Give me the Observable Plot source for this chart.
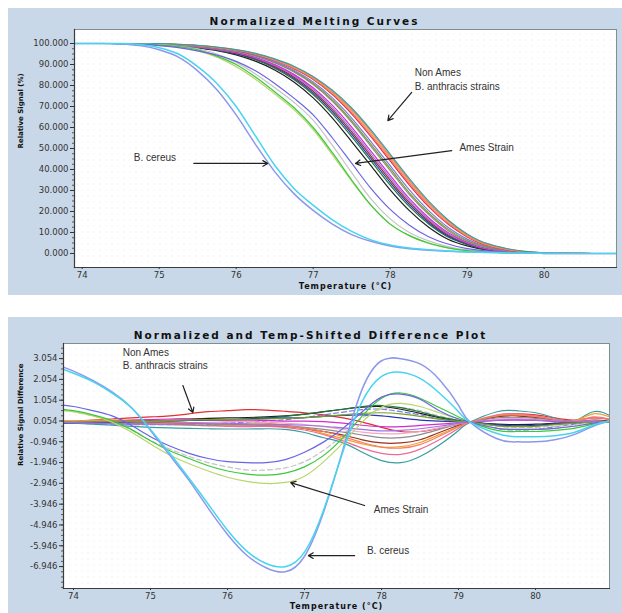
<!DOCTYPE html>
<html><head><meta charset="utf-8">
<script src="https://cdn.jsdelivr.net/npm/d3@7"></script>
<script src="https://cdn.jsdelivr.net/npm/@observablehq/plot@0.6"></script>
<style>
body{margin:0;background:#fff;}
#wrap{position:relative;width:622px;height:613px;overflow:hidden;background:#fff;}
.panel{position:absolute;left:8px;width:614px;background:#c9d8e8;}
#top{top:8px;height:287px;}
#bot{top:317px;height:296px;}
</style></head>
<body><div id="wrap"><div id="top" class="panel"></div><div id="bot" class="panel"></div></div>
<script>
// ---------- shared temperature grid (°C) ----------
const temps = [73.75,74,74.25,74.5,74.75,75,75.25,75.5,75.75,76,76.25,76.5,76.75,77,77.25,77.5,77.75,78,78.25,78.5,78.75,79,79.15,79.5,79.75,80,80.25,80.5,80.75,81];
const xTicks = [74,75,76,77,78,79,80];

// ---------- Normalized Melting Curves (Relative Signal %) ----------
const topYTicks = [0,10,20,30,40,50,60,70,80,90,100];
const topCereusBlue = [100,100,100,99.8,99,97,93.5,87,78,66,52,39,28.5,20.5,14,9,5.8,3.6,2.3,1.6,1.1,0.75,0.6,0.3,0.15,0.05,0,0,0,0];
const topCereusCyan = [100,100,100,100,99.5,98,95,89,81,70,56,42,31,23,16,10.5,6.5,4,2.6,1.75,1.2,0.8,0.6,0.3,0.15,0.05,0,0,0,0];
const topAmesGreen  = [100,100,100,100,99.8,99.3,98.5,97,94,90,84,77,69.5,60,48,35,23,14,8.5,5,2.7,1.4,0.95,0.3,0.1,0,0,0,0,0];
const topAmesPurple = [100,100,100,100,99.7,99,98,96.5,94.5,91.5,87,81,74,66,55,43,31,21,13.5,8,4.5,2.3,1.6,0.5,0.2,0.05,0,0,0,0];
const topAmesGrey   = [100,100,100,100,99.8,99.4,98.7,97.5,95,91,85.5,79,72,63.5,51.5,38.5,26,16.5,10,6,3.3,1.7,1.2,0.4,0.15,0.03,0,0,0,0];
const topAmesYellow = [100,100,100,100,99.7,99.1,98.2,96.5,93.5,89,83,76,68.5,59,47,34.5,23,14,8.5,4.8,2.6,1.35,0.95,0.3,0.1,0,0,0,0,0];
const topNonAmes1  = [100,100,100,99.95,99.8,99.4,98.8,97.9,96.6,94.6,91.6,87.4,81.7,74.1,64.5,53.3,41.8,30.3,20.4,12.5,6.8,3.6,2.3,0.6,0.2,0.06,0,0,0,0];
const topNonAmes2  = [100,100,100,99.97,99.82,99.47,98.92,98.05,96.85,95,92.25,88.25,82.9,75.7,66.5,55.6,44.1,32.6,22.3,14,7.85,4.2,2.6,0.75,0.28,0.08,0.01,0,0,0];
const topNonAmes3  = [100,100,100,99.98,99.84,99.52,98.98,98.1,96.95,95.2,92.6,88.7,83.5,76.5,67.6,56.8,45.3,33.8,23.3,14.8,8.4,4.5,2.75,0.82,0.3,0.09,0.01,0,0,0];
const topNonAmes4  = [100,100,100,100,99.85,99.55,99.05,98.2,97.1,95.4,92.9,89.1,84.1,77.3,68.5,57.9,46.4,34.9,24.2,15.5,8.9,4.8,2.9,0.9,0.35,0.1,0.02,0,0,0];
const topNonAmes5  = [100,100,100,100,99.86,99.58,99.1,98.3,97.2,95.6,93.15,89.5,84.7,78.1,69.5,59,47.5,36,25.1,16.2,9.4,5,3.1,0.95,0.38,0.11,0.02,0,0,0];
const topNonAmes6  = [100,100,100,100,99.88,99.62,99.17,98.4,97.35,95.8,93.45,89.95,85.3,78.9,70.5,60.2,48.7,37.2,26.1,17,9.95,5.3,3.35,1.05,0.42,0.12,0.03,0,0,0];
const topNonAmes7  = [100,100,100,100,99.9,99.7,99.3,98.6,97.6,96.2,94,90.8,86.5,80.5,72.5,62.5,51,39.5,28,18.5,11,5.8,3.8,1.2,0.5,0.15,0.05,0,0,0];
const topNonAmes8  = [100,100,100,100,99.91,99.72,99.33,98.65,97.65,96.3,94.15,91.05,86.8,81,73.15,63.3,52,40.5,28.9,19.3,11.6,6.2,4.1,1.3,0.55,0.17,0.05,0,0,0];
const topNonAmes9  = [100,100,100,100,99.92,99.75,99.38,98.75,97.75,96.45,94.35,91.35,87.25,81.7,74.1,64.5,53.3,41.8,30.3,20.4,12.5,6.85,4.5,1.5,0.62,0.2,0.06,0.01,0,0];
const topNonAmes10 = [100,100,100,100,99.95,99.8,99.45,98.9,97.9,96.7,94.7,91.9,88,82.9,75.7,66.5,55.6,44.1,32.6,22.3,14,7.9,5.2,1.8,0.75,0.25,0.08,0.02,0,0];
const topNonAmes11 = [100,100,100,100,99.96,99.82,99.48,98.95,98,96.8,94.85,92.1,88.3,83.25,76.2,67.2,56.4,44.9,33.35,22.95,14.5,8.25,5.45,1.95,0.8,0.27,0.08,0.02,0,0];
const topNonAmes12 = [100,100,100,100,99.97,99.85,99.52,99,98.1,96.9,95,92.3,88.6,83.6,76.7,67.9,57.25,45.7,34.1,23.6,15.05,8.6,5.75,2.15,0.88,0.3,0.09,0.02,0,0];
const topNonAmes13 = [100,100,100,100,99.98,99.88,99.57,99.05,98.2,97,95.15,92.5,88.9,83.95,77.2,68.6,58.1,46.5,34.85,24.25,15.6,9,6.05,2.35,0.95,0.33,0.1,0.03,0,0];
const topNonAmes14 = [100,100,100,100,100,99.9,99.6,99.1,98.3,97.1,95.3,92.7,89.2,84.3,77.7,69.3,58.9,47.3,35.6,24.9,16.1,9.3,6.3,2.5,1,0.35,0.1,0.03,0,0];

// ---------- Normalized and Temp-Shifted Difference Plot ----------
const diffYTicks = [3.054,2.054,1.054,0.054,-0.946,-1.946,-2.946,-3.946,-4.946,-5.946,-6.946];
const diffCereusBlue = [2.8,2.45,2.0,1.45,0.7,-0.4,-1.6,-2.8,-4.15,-5.4,-6.4,-7.0,-7.2,-6.45,-4.3,-1.3,1.6,2.95,3.05,2.8,2.05,0.8,0,-0.8,-0.95,-0.95,-0.85,-0.6,-0.2,0.1];
const diffCereusCyan = [2.7,2.35,1.95,1.4,0.7,-0.35,-1.5,-2.7,-3.95,-5.2,-6.2,-6.8,-6.95,-6.25,-4.2,-1.4,1.0,2.2,2.4,2.1,1.4,0.5,0,-0.55,-0.7,-0.7,-0.65,-0.5,-0.15,0.1];
const diffAmesPurple = [0.85,0.75,0.55,0.3,-0.15,-0.7,-1.15,-1.5,-1.75,-1.9,-1.95,-1.95,-1.8,-1.45,-0.95,-0.3,0.5,1.2,1.35,1.1,0.55,0.15,0,-0.3,-0.35,-0.35,-0.3,-0.2,-0.05,0.05];
const diffAmesGreen  = [0.65,0.55,0.35,0.08,-0.35,-0.9,-1.38,-1.75,-2.1,-2.35,-2.5,-2.55,-2.45,-2.15,-1.6,-0.75,0.3,1.15,1.4,1.15,0.7,0.25,0,-0.4,-0.45,-0.45,-0.4,-0.3,-0.1,0.05];
const diffAmesYellow = [0.6,0.5,0.3,0,-0.48,-1.05,-1.58,-2.0,-2.35,-2.65,-2.85,-2.95,-2.9,-2.6,-1.9,-1.0,0,0.72,0.9,0.75,0.45,0.15,0,-0.3,-0.35,-0.35,-0.3,-0.2,-0.05,0.05];
const diffAmesGrey   = [0.6,0.5,0.3,0.05,-0.38,-0.88,-1.3,-1.65,-1.95,-2.15,-2.3,-2.3,-2.2,-1.9,-1.35,-0.6,0.2,0.62,0.7,0.55,0.3,0.1,0,-0.2,-0.25,-0.25,-0.2,-0.15,-0.05,0];
const diffNonAmes1  = [0.05,0.05,0.1,0.15,0.2,0.25,0.3,0.4,0.5,0.55,0.6,0.58,0.52,0.45,0.35,0.2,0,-0.25,-0.45,-0.45,-0.3,-0.1,0,0.3,0.4,0.35,0.2,0.1,0.2,0.1];
const diffNonAmes2  = [0,0,0.02,0.05,0.08,0.1,0.12,0.15,0.18,0.2,0.22,0.25,0.3,0.38,0.5,0.62,0.72,0.75,0.62,0.42,0.22,0.06,0,-0.1,-0.12,-0.1,-0.05,0,0.05,0];
const diffNonAmes3  = [-0.05,-0.05,-0.05,-0.03,0,0.02,0.05,0.08,0.1,0.12,0.15,0.2,0.28,0.38,0.5,0.62,0.75,0.8,0.7,0.5,0.25,0.08,0,-0.15,-0.2,-0.18,-0.1,-0.05,0.05,0];
const diffNonAmes4  = [0,-0.05,-0.1,-0.15,-0.2,-0.25,-0.28,-0.3,-0.32,-0.33,-0.33,-0.32,-0.35,-0.5,-0.75,-1.0,-1.45,-1.85,-1.95,-1.65,-1.1,-0.4,0,0.5,0.55,0.45,0.2,0.05,0.5,0.25];
const diffNonAmes5  = [0,0,-0.02,-0.05,-0.08,-0.1,-0.12,-0.15,-0.18,-0.2,-0.22,-0.2,-0.25,-0.38,-0.6,-0.9,-1.25,-1.5,-1.55,-1.3,-0.85,-0.3,0,0.35,0.4,0.3,0.15,0.05,0.2,0.1];
const diffNonAmes6  = [0.05,0.05,0.08,0.1,0.1,0.12,0.12,0.1,0.08,0.05,0.02,-0.05,-0.15,-0.3,-0.55,-0.8,-1.05,-1.2,-1.18,-0.98,-0.6,-0.2,0,0.3,0.35,0.25,0.1,0.05,0.4,0.2];
const diffNonAmes7  = [0,0,0,0.02,0.02,0,-0.02,-0.05,-0.08,-0.1,-0.12,-0.15,-0.2,-0.3,-0.45,-0.62,-0.85,-1.0,-1.0,-0.85,-0.5,-0.15,0,0.25,0.3,0.22,0.1,0.03,0.1,0.05];
const diffNonAmes8  = [0.02,0,0,-0.02,-0.05,-0.08,-0.1,-0.12,-0.15,-0.15,-0.15,-0.15,-0.18,-0.25,-0.35,-0.48,-0.62,-0.75,-0.75,-0.6,-0.35,-0.1,0,0.2,0.22,0.18,0.08,0.02,0.05,0];
const diffNonAmes9  = [0,0.02,0.05,0.08,0.1,0.12,0.12,0.1,0.08,0.05,0.02,0,-0.05,-0.12,-0.22,-0.35,-0.48,-0.55,-0.55,-0.45,-0.28,-0.08,0,0.15,0.18,0.12,0.05,0.02,0.05,0];
const diffNonAmes10 = [0,0,0.02,0.05,0.08,0.12,0.15,0.15,0.12,0.1,0.1,0.08,0.05,0.05,0.02,-0.05,-0.15,-0.22,-0.22,-0.16,-0.1,-0.03,0,0.08,0.1,0.08,0.03,0,0.02,0];
const diffNonAmes11 = [-0.02,-0.02,0,0,0.02,0.05,0.05,0.08,0.1,0.12,0.15,0.18,0.2,0.22,0.28,0.32,0.35,0.3,0.2,0.1,0.05,0.02,0,-0.12,-0.18,-0.15,-0.08,-0.03,0,0];
const diffNonAmes12 = [-0.05,-0.05,-0.08,-0.1,-0.12,-0.12,-0.12,-0.1,-0.08,-0.05,0,0.05,0.12,0.22,0.35,0.48,0.6,0.62,0.5,0.35,0.15,0.05,0,-0.3,-0.38,-0.35,-0.22,-0.1,0.05,0];
const diffNonAmes13 = [0.02,0.02,0.05,0.05,0.05,0.02,0,-0.02,-0.05,-0.08,-0.1,-0.12,-0.18,-0.3,-0.45,-0.7,-0.98,-1.2,-1.25,-1.08,-0.68,-0.22,0,0.3,0.35,0.28,0.12,0.04,0.25,0.1];
const diffNonAmes14 = [0,0,0.02,0.02,0.05,0.05,0.08,0.1,0.12,0.12,0.12,0.15,0.18,0.22,0.28,0.35,0.42,0.45,0.4,0.28,0.14,0.04,0,-0.18,-0.22,-0.2,-0.12,-0.05,0,0];
const diffNonAmes15 = [0,-0.02,-0.05,-0.08,-0.1,-0.1,-0.08,-0.05,-0.05,-0.05,-0.08,-0.1,-0.12,-0.15,-0.2,-0.28,-0.35,-0.42,-0.4,-0.32,-0.2,-0.05,0,0.1,0.12,0.1,0.05,0.02,0.03,0];

// ---------- annotations (data units) ----------
const topNotes = [
  {t:78.32, v:86.2, label:"Non Ames"},
  {t:78.32, v:79.5, label:"B. anthracis strains"},
  {t:78.9, v:50.5, label:"Ames Strain"},
  {t:74.67, v:45.7, label:"B. cereus"}
];
const topArrows = [
  {t1:78.28, v1:76.7, t2:77.97, v2:63.3},
  {t1:78.8, v1:49, t2:77.55, v2:42.9},
  {t1:75.45, v1:42.9, t2:76.41, v2:42.9}
];
const diffNotes = [
  {t:74.64, v:3.34, label:"Non Ames"},
  {t:74.64, v:2.72, label:"B. anthracis strains"},
  {t:77.9, v:-4.21, label:"Ames Strain"},
  {t:77.81, v:-6.18, label:"B. cereus"}
];
const diffArrows = [
  {t1:75.42, v1:1.76, t2:75.55, v2:0.46},
  {t1:77.78, v1:-4.01, t2:76.82, v2:-2.91},
  {t1:77.65, v1:-6.42, t2:77.05, v2:-6.42}
];

// ---------- styles ----------
const color = {
  cereusBlue:"#8c98ec", cereusCyan:"#48d4ee",
  amesPurple:"#6c64e4", amesGreen:"#3cc83c", amesYellow:"#b8d66c", amesGrey:"#c4c4c4",
  n1:"#e03030", n2:"#1e1e1e", n3:"#1f7a3a", n4:"#3a9e9e", n5:"#f06a96", n6:"#f5a030",
  n7:"#9a3020", n8:"#8c8c8c", n9:"#f5a5c8", n10:"#d02cd0", n11:"#2838b8", n12:"#7a7ae6",
  n13:"#f08068", n14:"#7aa028", n15:"#a070e0"
};

const topSeries = [
  ["n2",topNonAmes1],["n3",topNonAmes2],["n11",topNonAmes3],["n7",topNonAmes4],["n15",topNonAmes5],
  ["n10",topNonAmes6],["n8",topNonAmes7],["n14",topNonAmes8],["n12",topNonAmes9],["n1",topNonAmes10],
  ["n5",topNonAmes11],["n6",topNonAmes12],["n13",topNonAmes13],["n4",topNonAmes14],
  ["amesGrey",topAmesGrey],["amesYellow",topAmesYellow],["amesGreen",topAmesGreen],["amesPurple",topAmesPurple],
  ["cereusBlue",topCereusBlue],["cereusCyan",topCereusCyan]
];
const diffSeries = [
  ["n1",diffNonAmes1],["n2",diffNonAmes2],["n3",diffNonAmes3],["n4",diffNonAmes4],["n5",diffNonAmes5],
  ["n6",diffNonAmes6],["n7",diffNonAmes7],["n8",diffNonAmes8],["n9",diffNonAmes9],["n10",diffNonAmes10],
  ["n11",diffNonAmes11],["n12",diffNonAmes12],["n13",diffNonAmes13],["n14",diffNonAmes14],["n15",diffNonAmes15],
  ["amesGrey",diffAmesGrey],["amesYellow",diffAmesYellow],["amesGreen",diffAmesGreen],["amesPurple",diffAmesPurple],
  ["cereusBlue",diffCereusBlue],["cereusCyan",diffCereusCyan]
];

function rows(list){ return list.flatMap(([id, vals]) => temps.map((t,i) => ({id, t, v: vals[i]}))); }

const titles = ["Normalized Melting Curves","Normalized and Temp-Shifted Difference Plot"];
const axisTitles = ["Temperature (°C)"];

function panel(o){
  const all = rows(o.series);
  const solid = all.filter(d => !o.dashed.includes(d.id));
  const dash = all.filter(d => o.dashed.includes(d.id));
  const w = d => d.id.startsWith("cereus") ? 1.5 : 1.2;
  const svg = Plot.plot({
    width:614, height:o.height,
    marginLeft:o.ml, marginRight:o.mr, marginTop:o.mt, marginBottom:o.mb,
    style:{background:"transparent", fontFamily:"DejaVu Sans, sans-serif", fontSize:"8.5px", color:"#333", overflow:"visible"},
    x:{domain:o.xDomain},
    y:{domain:o.yDomain},
    marks:[
      Plot.frame({fill:`url(#${o.pid})`, stroke:"none"}),
      Plot.line(dash, {x:"t", y:"v", z:"id", stroke:d => color[d.id], strokeWidth:1.2, strokeDasharray:"5,3", curve:o.curve, clip:true}),
      Plot.line(solid, {x:"t", y:"v", z:"id", stroke:d => color[d.id], strokeWidth:w, curve:o.curve, clip:true}),
      Plot.frame({stroke:"#7f8e8e"}),
      Plot.frame({anchor:"left", stroke:"#3c3c3c", strokeWidth:1.2}),
      Plot.frame({anchor:"bottom", stroke:"#3c3c3c", strokeWidth:1.2}),
      Plot.axisY({ticks:o.yMinor, tickSize:2, tickFormat:() => "", label:null, stroke:"#555"}),
      Plot.axisY({ticks:o.yTicks, tickSize:4, tickPadding:2, tickFormat:d => d.toFixed(3), label:null}),
      Plot.axisX({ticks:xTicks, tickSize:2, tickPadding:2, tickFormat:d => String(d), label:null}),
      Plot.text([o.title], {frameAnchor:"top", dx:o.titleDx, dy:-12, fontWeight:"bold", fontSize:10.5, fill:"#111"}),
      Plot.text(["Temperature (°C)"], {frameAnchor:"bottom", dx:o.xlabDx, dy:o.xlabDy, fontWeight:"bold", fontSize:8, fill:"#111"}),
      Plot.text([o.ylabel], {frameAnchor:"left", rotate:-90, dx:o.ylabDx, fontWeight:"bold", fontSize:7, fill:"#111"}),
      Plot.text(o.notes, {x:"t", y:"v", text:"label", textAnchor:"start", fontFamily:"Liberation Sans, Arial, sans-serif", fontSize:10, fill:"#333"}),
      Plot.arrow(o.arrows, {x1:"t1", y1:"v1", x2:"t2", y2:"v2", stroke:"#222", strokeWidth:1.2, headLength:7})
    ]
  });
  d3.select(svg).insert("defs", ":first-child").html(
    `<pattern id="${o.pid}" width="6" height="6" patternUnits="userSpaceOnUse"><rect width="6" height="6" fill="#fff"/><circle cx="1.5" cy="1.5" r="0.55" fill="#e2e2e2"/></pattern>`);
  d3.select(svg).selectAll("text").each(function(){
    const s = this.textContent;
    if (titles.includes(s)) d3.select(this).attr("letter-spacing", "2");
    if (axisTitles.includes(s)) d3.select(this).attr("letter-spacing", "1");
  });
  return svg;
}

document.getElementById("top").appendChild(panel({
  series:topSeries, dashed:[], curve:"monotone-x", height:287, ml:66, mr:6, mt:21, mb:28,
  xDomain:[73.9,80.94], yDomain:[-6.67,106.67],
  yTicks:topYTicks, yMinor:d3.range(0,101,2.5),
  title:"Normalized Melting Curves", titleDx:-31, xlabDx:0, xlabDy:21, ylabel:"Relative Signal (%)", ylabDx:-54,
  notes:topNotes, arrows:topArrows, pid:"dotsTop"
}));
document.getElementById("bot").appendChild(panel({
  series:diffSeries, dashed:["n12","amesGrey"], curve:"natural", height:296, ml:55, mr:13, mt:26, mb:25,
  xDomain:[73.87,80.96], yDomain:[-8.0,3.78],
  yTicks:diffYTicks, yMinor:d3.range(-7.946,3.6,0.25),
  title:"Normalized and Temp-Shifted Difference Plot", titleDx:-26, xlabDx:0, xlabDy:20, ylabel:"Relative Signal Difference", ylabDx:-43,
  notes:diffNotes, arrows:diffArrows, pid:"dotsBot"
}));
</script></body></html>
